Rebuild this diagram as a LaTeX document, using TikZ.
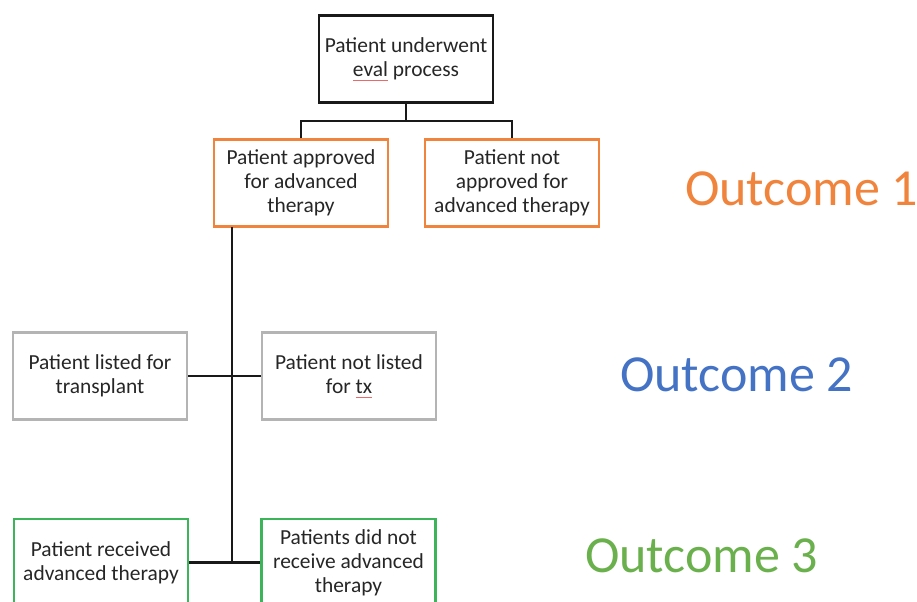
\documentclass[tikz,border=0pt]{standalone}
\usepackage{fontspec}
\setmainfont{Carlito}
\usetikzlibrary{positioning}
\definecolor{outorange}{HTML}{F0843C}
\definecolor{outblue}{HTML}{4472C4}
\definecolor{outgreen}{HTML}{6AB04C}
\definecolor{boxgray}{HTML}{B4B4B4}
\definecolor{boxgreen}{HTML}{3CB45A}
\definecolor{spellred}{HTML}{E86A6A}
\newcommand{\spellerr}[1]{\leavevmode{\setbox0\hbox{#1}\rlap{\color{spellred}\rule[-2.6pt]{\wd0}{0.5pt}}\box0}}

\begin{document}
\begin{tikzpicture}[x=0.02cm, y=-0.02cm,
    every node/.style={font=\fontsize{12.2}{13.7}\selectfont, text=black!85},
    box/.style={draw, line width=1.3pt, minimum width=3.48cm, minimum height=1.74cm, inner sep=0pt, align=center},
    link/.style={draw=black!90, line width=1.4pt},
    outcome/.style={font=\fontsize{29.6}{34}\selectfont, anchor=base west}]
    \clip (0,0) rectangle (917,602);
    % first step
    \node[box, draw=black!90, line width=1.6pt] (eval) at (406,59) {Patient underwent\\\spellerr{eval} process};
    \node[box, draw=outorange] (approved) at (301,183) {Patient approved\\for advanced\\therapy};
    \node[box, draw=outorange] (notapproved) at (512,183) {Patient not\\approved for\\advanced therapy};
    \coordinate (split) at (406,121);
    \draw[link] (eval.south) -- (split);
    \draw[link] (approved.north) |- (split) -| (notapproved.north);
    % listing
    \node[box, draw=boxgray] (listed) at (100,376) {Patient listed for\\transplant};
    \node[box, draw=boxgray] (notlisted) at (349,376) {Patient not listed\\for \spellerr{tx}};
    % therapy
    \node[box, draw=boxgreen] (received) at (101,562.5) {Patient received\\advanced therapy};
    \node[box, draw=boxgreen] (notreceived) at (348.5,562.5) {Patients did not\\receive advanced\\therapy};
    \coordinate (trunktop) at (232,227);
    \coordinate (trunkbot) at (232,562.5);
    \draw[link] (trunktop) -- (trunkbot);
    \draw[link] (listed.east) -- (notlisted.west);
    \draw[link] (received.east) -- (trunkbot) -- (notreceived.west);
    % outcome labels
    \node[outcome, text=outorange] (outone) at (679,205) {Outcome 1};
    \node[outcome, text=outblue] (outtwo) at (614,391) {Outcome 2};
    \node[outcome, text=outgreen] (outthree) at (579,572) {Outcome 3};
\end{tikzpicture}
\end{document}
